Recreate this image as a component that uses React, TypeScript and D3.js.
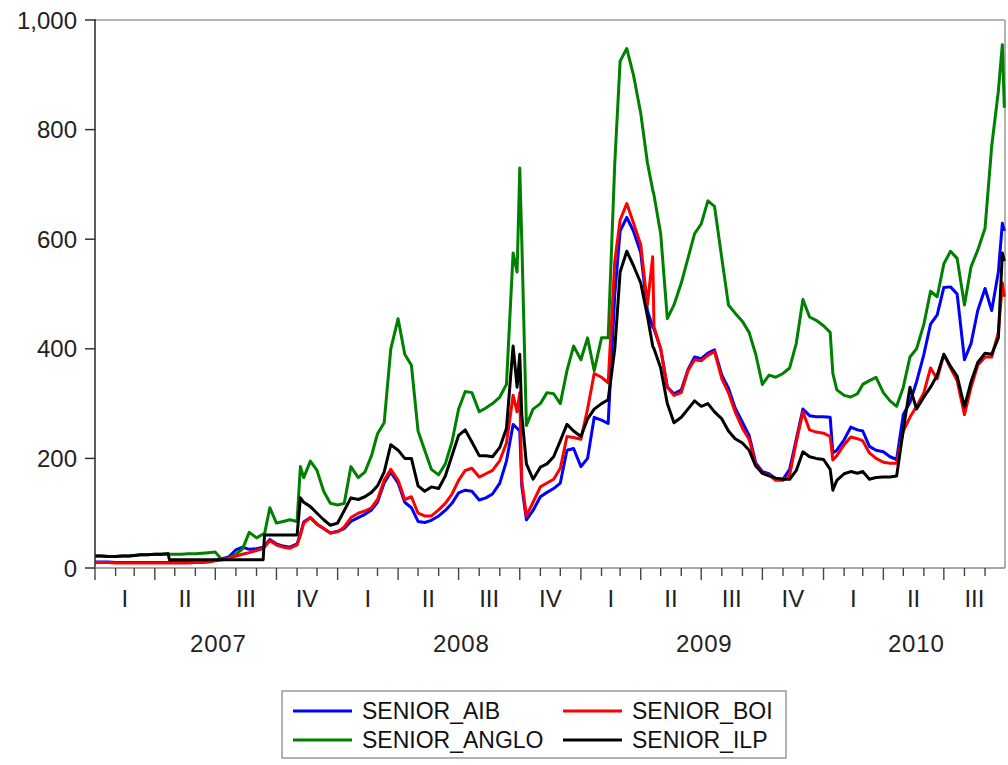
import React from 'react';
import * as d3 from 'd3';

// observation dates (roughly every 10 days, a few extra around jumps)
const dates = [
  '2007-01-01', '2007-01-11', '2007-01-21', '2007-02-01', '2007-02-11', '2007-02-21',
  '2007-03-01', '2007-03-11', '2007-03-21', '2007-04-01', '2007-04-11', '2007-04-21',
  '2007-04-23', '2007-05-01', '2007-05-11', '2007-05-21', '2007-06-01', '2007-06-11',
  '2007-06-21', '2007-07-01', '2007-07-11', '2007-07-21', '2007-08-01', '2007-08-11',
  '2007-08-21', '2007-09-01', '2007-09-11', '2007-09-13', '2007-09-21', '2007-10-01',
  '2007-10-11', '2007-10-21', '2007-11-01', '2007-11-06', '2007-11-11', '2007-11-21',
  '2007-12-01', '2007-12-11', '2007-12-21',
  '2008-01-01', '2008-01-11', '2008-01-21', '2008-02-01', '2008-02-11', '2008-02-21',
  '2008-03-01', '2008-03-11', '2008-03-21', '2008-04-01', '2008-04-11', '2008-04-21',
  '2008-05-01', '2008-05-11', '2008-05-21', '2008-06-01', '2008-06-11', '2008-06-21',
  '2008-07-01', '2008-07-11', '2008-07-21', '2008-08-01', '2008-08-11', '2008-08-21',
  '2008-09-01', '2008-09-11', '2008-09-21', '2008-09-27', '2008-10-01', '2008-10-04',
  '2008-10-11', '2008-10-21', '2008-11-01', '2008-11-11', '2008-11-21', '2008-12-01',
  '2008-12-11', '2008-12-21',
  '2009-01-01', '2009-01-11', '2009-01-21', '2009-02-01', '2009-02-11', '2009-02-21',
  '2009-03-01', '2009-03-11', '2009-03-21', '2009-04-01', '2009-04-11', '2009-04-19',
  '2009-04-21', '2009-05-01', '2009-05-11', '2009-05-21', '2009-06-01', '2009-06-11',
  '2009-06-21', '2009-07-01', '2009-07-11', '2009-07-21', '2009-08-01', '2009-08-11',
  '2009-08-21', '2009-09-01', '2009-09-11', '2009-09-21', '2009-10-01', '2009-10-11',
  '2009-10-21', '2009-11-01', '2009-11-11', '2009-11-21', '2009-12-01', '2009-12-11',
  '2009-12-21',
  '2010-01-01', '2010-01-11', '2010-01-15', '2010-01-21', '2010-02-01', '2010-02-11',
  '2010-02-21', '2010-03-01', '2010-03-11', '2010-03-21', '2010-04-01', '2010-04-11',
  '2010-04-21', '2010-05-01', '2010-05-11', '2010-05-21', '2010-06-01', '2010-06-11',
  '2010-06-21', '2010-07-01', '2010-07-11', '2010-07-21', '2010-08-01', '2010-08-11',
  '2010-08-21', '2010-09-01', '2010-09-11', '2010-09-21', '2010-09-27', '2010-09-30',
];

const seniorAib = [
  11, 11, 11, 10, 10, 10, 10, 10, 10, 10, 10, 10, 10, 10, 10, 10, 11, 11, 12,
  14, 17, 20, 33, 38, 34, 35, 38, 40, 52, 44, 40, 38, 44, 62, 84, 92, 80, 72, 64,
  67, 72, 85, 92, 98, 106, 120, 155, 175, 155, 120, 110, 85, 83, 87, 95, 105, 118, 137, 142,
  140, 124, 128, 135, 155, 195, 262, 255, 250, 150, 88, 105, 130, 138, 145, 155, 215, 218,
  185, 200, 275, 270, 264, 500, 615, 640, 615, 575, 470, 440, 436, 400, 330, 318, 325, 362,
  385, 382, 392, 398, 352, 328, 292, 266, 242, 192, 176, 172, 163, 162, 180, 235, 290, 278, 276,
  276, 275, 210, 215, 234, 257, 252, 250, 222, 215, 212, 203, 198, 280, 302, 340, 390, 445,
  462, 512, 513, 500, 380, 410, 470, 510, 470, 540, 629, 615,
];

const seniorBoi = [
  10, 10, 10, 9, 9, 9, 9, 9, 9, 9, 9, 9, 9, 9, 9, 9, 10, 10, 11,
  13, 15, 18, 22, 25, 28, 32, 36, 38, 50, 42, 38, 36, 42, 60, 82, 92, 80, 72, 64,
  66, 75, 92, 100, 104, 110, 125, 160, 180, 160, 125, 130, 100, 95, 95, 106, 118, 135, 160, 178,
  182, 166, 172, 178, 196, 228, 315, 285, 320, 160, 95, 120, 148, 155, 162, 182, 240, 238,
  235, 290, 355, 348, 338, 560, 635, 665, 630, 590, 480, 568, 440, 400, 330, 315, 320, 360,
  380, 378, 388, 395, 345, 320, 285, 255, 235, 188, 173, 170, 160, 160, 170, 230, 285, 252, 248,
  246, 240, 197, 205, 225, 239, 236, 232, 210, 200, 193, 191, 191, 250, 275, 295, 320, 365,
  345, 390, 365, 342, 280, 330, 370, 385, 385, 430, 520, 495,
];

const seniorAnglo = [
  22, 22, 21, 21, 22, 22, 23, 24, 24, 25, 25, 26, 25, 25, 25, 26, 26, 27, 28,
  29, 15, 18, 25, 35, 65, 55, 62, 62, 110, 82, 85, 88, 85, 185, 165, 195, 178, 140, 118,
  115, 118, 185, 165, 175, 205, 245, 265, 400, 455, 390, 370, 250, 215, 180, 170, 190, 230, 290, 322,
  320, 285, 292, 300, 312, 335, 575, 540, 730, 600, 260, 290, 300, 320, 318, 300, 360, 405,
  380, 420, 360, 420, 420, 740, 925, 948, 900, 830, 740, 690, 680, 610, 455, 480, 520, 565,
  610, 628, 670, 660, 565, 480, 465, 450, 430, 390, 335, 352, 348, 355, 365, 410, 490, 458, 452,
  442, 430, 355, 325, 315, 312, 318, 335, 342, 348, 320, 305, 295, 330, 385, 400, 445, 505,
  495, 555, 578, 565, 480, 550, 580, 620, 770, 870, 955, 840,
];

const seniorIlp = [
  22, 22, 21, 21, 22, 22, 23, 24, 24, 25, 25, 26, 15, 15, 15, 15, 15, 15, 15,
  15, 15, 15, 15, 15, 15, 15, 15, 60, 60, 60, 60, 60, 60, 128, 120, 112, 100, 88, 78,
  82, 105, 128, 125, 130, 138, 150, 175, 225, 215, 200, 200, 150, 140, 148, 145, 168, 205, 242, 252,
  230, 205, 205, 203, 220, 255, 405, 330, 390, 280, 190, 162, 184, 190, 203, 232, 262, 250,
  240, 272, 290, 300, 307, 400, 540, 578, 552, 520, 460, 405, 400, 365, 300, 265, 275, 290,
  305, 295, 300, 285, 272, 250, 236, 228, 215, 186, 173, 168, 164, 162, 162, 178, 212, 203, 200,
  198, 180, 142, 160, 172, 176, 173, 176, 162, 165, 166, 166, 168, 252, 330, 290, 312, 330,
  352, 390, 368, 350, 294, 340, 375, 392, 390, 420, 575, 560,
];

const seriesNames = ['SENIOR_AIB', 'SENIOR_ANGLO', 'SENIOR_BOI', 'SENIOR_ILP'];
const seriesColors = ['#0000ff', '#008000', '#ff0000', '#000000'];
const yTicks = [0, 200, 400, 600, 800, 1000];
const quarterLabels = ['I', 'II', 'III', 'IV'];
const years = [2007, 2008, 2009, 2010];

const font = "'Liberation Sans', Arial, sans-serif";

export default function App() {
  const parse = d3.timeParse('%Y-%m-%d');
  const xs = dates.map((d) => parse(d) as Date);
  const start = new Date(2007, 0, 1);
  const end = new Date(2010, 9, 1);

  const x = d3.scaleTime().domain([start, end]).range([95, 1005]);
  const y = d3.scaleLinear().domain([0, 1000]).range([568, 20]);

  const line = d3
    .line<number>()
    .x((_, i) => x(xs[i]))
    .y((v) => y(v));

  const allSeries = [seniorAib, seniorAnglo, seniorBoi, seniorIlp];
  // draw order: blue, green, red, black on top
  const drawOrder = [0, 1, 2, 3];

  const months = d3.timeMonth.range(start, end);
  const quarters = d3.timeMonth.every(3)!.range(start, end);

  const fmt = d3.format(',');

  const legendRows = [
    [0, 2],
    [1, 3],
  ];

  return (
    <svg
      width={1008}
      height={765}
      style={{ position: 'absolute', left: 0, top: 0, background: '#fff' }}
      fontFamily={font}
    >
      <rect x={0} y={0} width={1008} height={765} fill="#fff" />

      {/* frame */}
      <line x1={95} y1={20} x2={1005} y2={20} stroke="#999" strokeWidth={1.5} />
      <line x1={1005} y1={20} x2={1005} y2={568} stroke="#999" strokeWidth={1.5} />

      {/* series */}
      {drawOrder.map((k) => (
        <path
          key={seriesNames[k]}
          d={line(allSeries[k]) || ''}
          fill="none"
          stroke={seriesColors[k]}
          strokeWidth={3}
          strokeLinejoin="round"
        />
      ))}

      {/* y axis */}
      <line x1={95} y1={19} x2={95} y2={569} stroke="#333" strokeWidth={1.6} />
      {yTicks.map((t) => (
        <g key={t}>
          <line x1={85} y1={y(t)} x2={95} y2={y(t)} stroke="#333" strokeWidth={1.5} />
          <text
            x={77}
            y={y(t) + 8.5}
            textAnchor="end"
            fontSize={24}
            fill="#222"
          >
            {fmt(t)}
          </text>
        </g>
      ))}

      {/* x axis */}
      <line x1={95} y1={568} x2={1005} y2={568} stroke="#888" strokeWidth={1.6} />
      {months.map((m) => {
        const isQ = m.getMonth() % 3 === 0;
        return (
          <line
            key={m.toISOString()}
            x1={x(m)}
            y1={568}
            x2={x(m)}
            y2={isQ ? 580 : 576}
            stroke="#444"
            strokeWidth={1.4}
          />
        );
      })}
      {quarters.map((q) => {
        const qEnd = d3.min([d3.timeMonth.offset(q, 3), end]) as Date;
        const cx = (x(q) + x(qEnd)) / 2;
        return (
          <text
            key={q.toISOString()}
            x={cx}
            y={607}
            textAnchor="middle"
            fontSize={24}
            fill="#222"
          >
            {quarterLabels[Math.floor(q.getMonth() / 3)]}
          </text>
        );
      })}
      {years.map((yr) => {
        const a = d3.max([new Date(yr, 0, 1), start]) as Date;
        const b = d3.min([new Date(yr + 1, 0, 1), end]) as Date;
        return (
          <text
            key={yr}
            x={(x(a) + x(b)) / 2 + 2}
            y={652}
            textAnchor="middle"
            fontSize={24}
            letterSpacing={0.8}
            fill="#222"
          >
            {yr}
          </text>
        );
      })}

      {/* legend */}
      <rect x={282} y={691} width={504} height={67} fill="#fff" stroke="#999" strokeWidth={1.5} />
      {legendRows.map((row, r) =>
        row.map((k, c) => {
          const lx = c === 0 ? 293 : 563;
          const ly = r === 0 ? 711 : 740;
          return (
            <g key={seriesNames[k]}>
              <line
                x1={lx}
                y1={ly}
                x2={lx + 59}
                y2={ly}
                stroke={seriesColors[k]}
                strokeWidth={3}
              />
              <text x={lx + 69} y={ly + 8} fontSize={23} fill="#111">
                {seriesNames[k]}
              </text>
            </g>
          );
        })
      )}
    </svg>
  );
}
